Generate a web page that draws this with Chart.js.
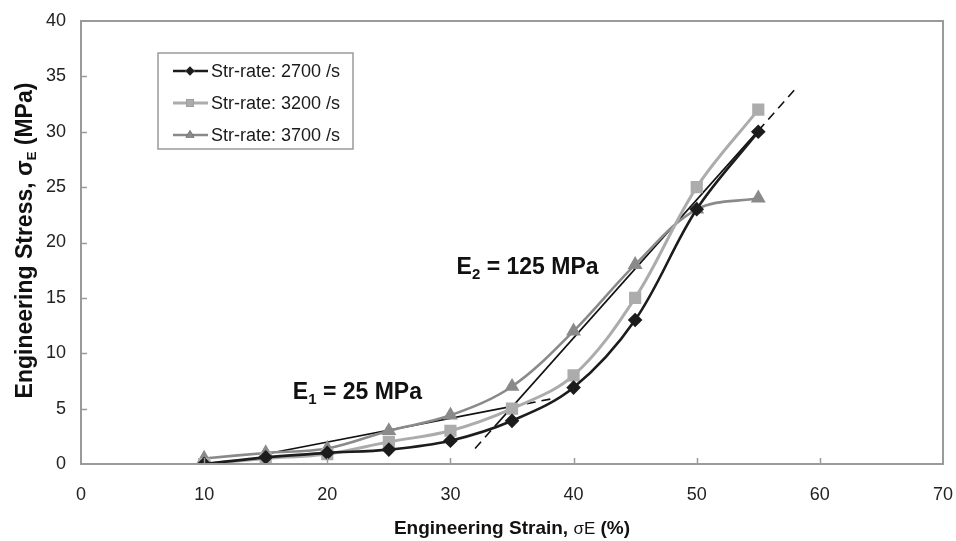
<!DOCTYPE html>
<html>
<head>
<meta charset="utf-8">
<script src="https://cdn.jsdelivr.net/npm/chart.js@4.4.1/dist/chart.umd.min.js"></script>
<style>
  html, body { margin: 0; padding: 0; background: #fff; }
  #wrap { width: 956px; height: 541px; }
</style>
</head>
<body>
<div id="wrap"><canvas id="stressChart" width="956" height="541"></canvas></div>
<script>
// engineering strain (%) sampled for every test
const strain = [10, 15, 20, 25, 30, 35, 40, 45, 50, 55];
const stress2700 = [0, 0.6, 1, 1.3, 2.1, 3.9, 6.9, 13, 23, 30];
const stress3200 = [0, 0.5, 0.9, 2, 3, 5, 8, 15, 25, 32];
const stress3700 = [0.5, 1, 1.4, 3, 4.4, 7, 12, 18, 23, 24];

const seriesLabels = ['Str-rate: 2700 /s', 'Str-rate: 3200 /s', 'Str-rate: 3700 /s'];
const xTicks = [0, 10, 20, 30, 40, 50, 60, 70];
const yTicks = [0, 5, 10, 15, 20, 25, 30, 35, 40];

// modulus fit lines: solid part, then dashed extension
const e1Solid = [[15, 0.9], [35, 5.2]];
const e1Dash = [[35, 5.2], [38.3, 5.9]];
const e2Dash1 = [[32, 1.4], [33.6, 3.4]];
const e2Solid = [[33.6, 3.4], [55, 30.1]];
const e2Dash2 = [[55, 30.1], [58.2, 34.1]];

const FONT = "'Liberation Sans', Arial, sans-serif";

const toXY = pts => pts.map(p => ({ x: p[0], y: p[1] }));
const curve = vals => strain.map((s, i) => ({ x: s, y: vals[i] }));

const fitLine = (pts, dash) => ({
  data: toXY(pts),
  borderColor: '#111',
  borderWidth: 1.6,
  borderDash: dash ? [9, 6] : [],
  pointRadius: 0,
  tension: 0
});

const datasets = [
  {
    label: seriesLabels[0],
    data: curve(stress2700),
    borderColor: '#1c1c1c',
    backgroundColor: '#1c1c1c',
    borderWidth: 2.6,
    pointStyle: 'rectRot',
    pointRadius: 5.5,
    tension: 0.35
  },
  {
    label: seriesLabels[1],
    data: curve(stress3200),
    borderColor: '#acacac',
    backgroundColor: '#acacac',
    borderWidth: 3,
    pointStyle: 'rect',
    pointRadius: 6.5,
    tension: 0.35
  },
  {
    label: seriesLabels[2],
    data: curve(stress3700),
    borderColor: '#8a8a8a',
    backgroundColor: '#8a8a8a',
    borderWidth: 2.6,
    pointStyle: 'triangle',
    pointRadius: 6,
    tension: 0.35
  },
  fitLine(e1Solid, false),
  fitLine(e1Dash, true),
  fitLine(e2Dash1, true),
  fitLine(e2Solid, false),
  fitLine(e2Dash2, true)
];

// draws text runs [text, font, dy] one after another
function drawRuns(ctx, runs, x, y) {
  let cx = x;
  runs.forEach(r => {
    ctx.font = r[1];
    ctx.fillText(r[0], cx, y + (r[2] || 0));
    cx += ctx.measureText(r[0]).width;
  });
  return cx - x;
}
function runsWidth(ctx, runs) {
  let w = 0;
  runs.forEach(r => { ctx.font = r[1]; w += ctx.measureText(r[0]).width; });
  return w;
}

const decorations = {
  id: 'decorations',
  afterDatasetsDraw(chart) {
    const { ctx, chartArea: a, scales } = chart;
    const xs = scales.x, ys = scales.y;
    ctx.save();

    // plot frame
    ctx.strokeStyle = '#9a9a9a';
    ctx.lineWidth = 2;
    ctx.strokeRect(a.left, a.top, a.right - a.left, a.bottom - a.top);

    // inward tick marks
    ctx.lineWidth = 1.5;
    ctx.beginPath();
    xTicks.slice(1, -1).forEach(v => {
      const px = Math.round(xs.getPixelForValue(v)) + 0.5;
      ctx.moveTo(px, a.bottom);
      ctx.lineTo(px, a.bottom - 6);
    });
    yTicks.slice(1, -1).forEach(v => {
      const py = Math.round(ys.getPixelForValue(v)) + 0.5;
      ctx.moveTo(a.left, py);
      ctx.lineTo(a.left + 6, py);
    });
    ctx.stroke();

    // modulus labels
    ctx.fillStyle = '#111';
    ctx.textBaseline = 'alphabetic';
    ctx.textAlign = 'left';
    const bold = 'bold 23px ' + FONT;
    const sub = 'bold 15px ' + FONT;
    drawRuns(ctx, [['E', bold], ['1', sub, 5], [' = 25 MPa', bold]],
      xs.getPixelForValue(17.2), ys.getPixelForValue(5.87));
    drawRuns(ctx, [['E', bold], ['2', sub, 5], [' = 125 MPa', bold]],
      xs.getPixelForValue(30.5), ys.getPixelForValue(17.2));

    // axis titles
    const tb = 'bold 19px ' + FONT;
    const xRuns = [['Engineering Strain, ', tb], ['σE', '17px ' + FONT], [' (%)', tb]];
    const xw = runsWidth(ctx, xRuns);
    drawRuns(ctx, xRuns, (a.left + a.right) / 2 - xw / 2, 534);

    const yb = 'bold 23px ' + FONT;
    const yRuns = [['Engineering Stress, σ', yb], ['E', 'bold 13px ' + FONT, 4], [' (MPa)', yb]];
    const yw = runsWidth(ctx, yRuns);
    ctx.save();
    ctx.translate(32, (a.top + a.bottom) / 2 - 2);
    ctx.rotate(-Math.PI / 2);
    drawRuns(ctx, yRuns, -yw / 2, 0);
    ctx.restore();

    // legend box
    const lx = 158, ly = 53, lw = 195, lh = 96;
    ctx.fillStyle = '#fff';
    ctx.fillRect(lx, ly, lw, lh);
    ctx.strokeStyle = '#9a9a9a';
    ctx.lineWidth = 1.5;
    ctx.strokeRect(lx, ly, lw, lh);
    ctx.font = '18px ' + FONT;
    ctx.textBaseline = 'middle';
    [0, 1, 2].forEach(i => {
      const ds = chart.data.datasets[i];
      const y = ly + 18 + i * 32;
      ctx.strokeStyle = ds.borderColor;
      ctx.lineWidth = ds.borderWidth;
      ctx.beginPath();
      ctx.moveTo(173, y);
      ctx.lineTo(208, y);
      ctx.stroke();
      Chart.helpers.drawPoint(ctx, {
        pointStyle: ds.pointStyle,
        radius: ds.pointRadius * 0.85,
        rotation: 0,
        borderWidth: 0
      }, 190, y);
      ctx.fillStyle = ds.backgroundColor;
      ctx.fill();
      ctx.fillStyle = '#1a1a1a';
      ctx.fillText(ds.label, 211, y + 1);
    });

    ctx.restore();
  }
};

// keep the plot box fixed: no automatic padding for end tick labels
const noEdgePadding = s => {
  s.paddingLeft = 0;
  s.paddingRight = 0;
  s.paddingTop = 0;
  s.paddingBottom = 0;
};

new Chart(document.getElementById('stressChart'), {
  type: 'line',
  data: { datasets: datasets },
  options: {
    responsive: false,
    animation: false,
    layout: { padding: { top: 21, right: 13, left: 0, bottom: 0 } },
    plugins: {
      legend: { display: false },
      tooltip: { enabled: false }
    },
    scales: {
      x: {
        type: 'linear',
        min: 0,
        max: 70,
        afterBuildTicks: s => { s.ticks = xTicks.map(v => ({ value: v })); },
        afterFit: s => { s.height = 77; noEdgePadding(s); },
        grid: { display: false, drawTicks: false },
        border: { display: false },
        ticks: {
          padding: 20,
          color: '#222',
          font: { family: FONT, size: 18 },
          maxRotation: 0
        }
      },
      y: {
        type: 'linear',
        min: 0,
        max: 40,
        afterBuildTicks: s => { s.ticks = yTicks.map(v => ({ value: v })); },
        afterFit: s => { s.width = 81; noEdgePadding(s); },
        grid: { display: false, drawTicks: false },
        border: { display: false },
        ticks: {
          padding: 15,
          color: '#222',
          font: { family: FONT, size: 18 }
        }
      }
    }
  },
  plugins: [decorations]
});
</script>
</body>
</html>
